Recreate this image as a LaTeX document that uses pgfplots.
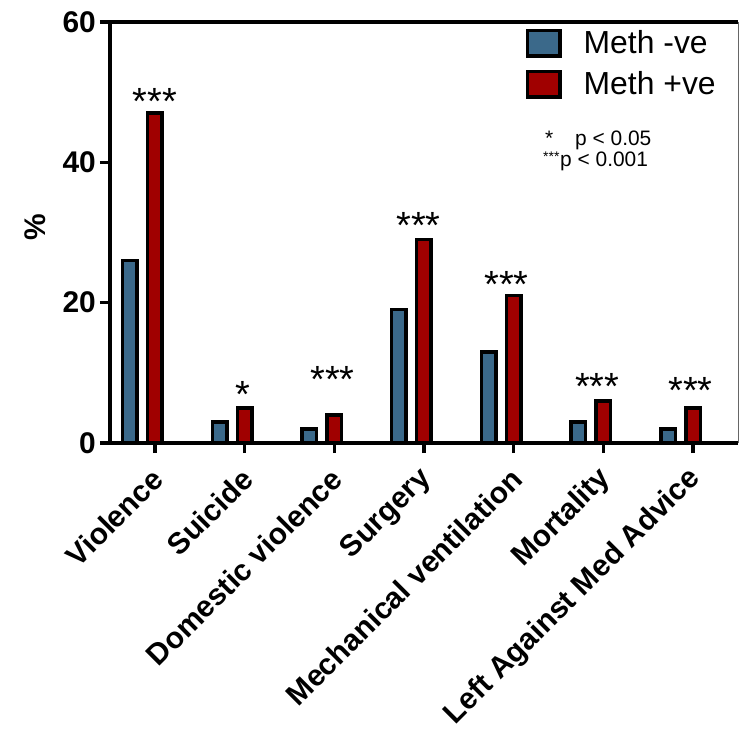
\documentclass[border=0pt]{standalone}
\usepackage{pgfplots}
\pgfplotsset{compat=1.18}
\usepackage{fontspec}
\setmainfont{Liberation Sans}
\definecolor{methneg}{HTML}{3B698A}
\definecolor{methpos}{HTML}{A00000}
\begin{document}
\begin{tikzpicture}
\begin{axis}[
  scale only axis,
  width=628bp, height=421bp,
  xmin=-0.5, xmax=6.5,
  ymin=0, ymax=60,
  ytick={0,20,40,60},
  xtick={0,1,2,3,4,5,6},
  xticklabels={Violence,Suicide,Domestic violence,Surgery,Mechanical ventilation,Mortality,Left Against Med Advice},
  tick pos=left,
  tick align=outside,
  major tick length=10bp,
  every tick/.style={black, line width=3.5bp},
  minor tick num=0,
  axis line style={draw=none},
  /pgf/number format/assume math mode=true,
  yticklabel style={font=\fontsize{30}{36}\selectfont\bfseries, inner sep=0pt, anchor=east, xshift=-4bp},
  xticklabel style={font=\fontsize{30}{36}\selectfont\bfseries, rotate=45, anchor=east, inner sep=0pt, xshift=-13bp, yshift=-17bp},
  ylabel={\%},
  ylabel style={font=\fontsize{30}{36}\selectfont\bfseries, at={(axis description cs:-0.1194,0.513)}, anchor=center},
  clip=false,
  legend style={at={(0.662,0.985)}, anchor=north west, draw=none, fill=none, inner sep=0pt,
    row sep=12bp, font=\fontsize{32}{38}\selectfont, nodes={inner sep=0pt, anchor=base west}},
  legend cell align=left,
]
\addplot[ybar, bar width=14.5bp, bar shift=-25bp, fill=methneg, draw=black, line width=3.5bp,
  legend image code/.code={\draw[fill=methneg,draw=black,line width=3.5bp] (0bp,-2.5bp) rectangle (32.5bp,23bp); \path[draw=none,fill=none] (0bp,0bp) -- (56bp,0bp);}]
  coordinates {(0,26) (1,3) (2,2) (3,19) (4,13) (5,3) (6,2)};
\addlegendentry{Meth -ve}
\addplot[ybar, bar width=14.5bp, bar shift=0bp, fill=methpos, draw=black, line width=3.5bp,
  legend image code/.code={\draw[fill=methpos,draw=black,line width=3.5bp] (0bp,-2.5bp) rectangle (32.5bp,23bp); \path[draw=none,fill=none] (0bp,0bp) -- (56bp,0bp);}]
  coordinates {(0,47) (1,5) (2,4) (3,29) (4,21) (5,6) (6,5)};
\addlegendentry{Meth +ve}
% significance stars
\begin{scope}[every node/.style={anchor=north, inner sep=0pt, font=\fontsize{38}{44}\selectfont}]
\node at (axis cs:0,50.6) {***};
\node at (axis cs:0.98,8.8) {*};
\node at (axis cs:1.98,11.0) {***};
\node at (axis cs:2.94,32.9) {***};
\node at (axis cs:3.92,24.5) {***};
\node at (axis cs:4.93,10.0) {***};
\node at (axis cs:5.97,9.3) {***};
\end{scope}
% axis frame
\draw[line width=4bp] (rel axis cs:0,1) -- (rel axis cs:1,1);
\draw[line width=4bp] (rel axis cs:0,1) -- (rel axis cs:0,0) -- (rel axis cs:1,0);
\draw[line width=1bp, black!60] (rel axis cs:1,0) -- (rel axis cs:1,1);
\coordinate (O) at (rel axis cs:0,0);
\end{axis}
\node[anchor=base west, inner sep=0pt, font=\fontsize{21}{25}\selectfont] at ([shift={(435bp,297bp)}]O) {*};
\node[anchor=base west, inner sep=0pt, font=\fontsize{21}{25}\selectfont] at ([shift={(465bp,297bp)}]O) {p < 0.05};
\node[anchor=base west, inner sep=0pt, font=\fontsize{14}{16}\selectfont] at ([shift={(433bp,281bp)}]O) {***};
\node[anchor=base west, inner sep=0pt, font=\fontsize{21}{25}\selectfont] at ([shift={(450bp,276bp)}]O) {p < 0.001};
\pgfresetboundingbox
\path ([shift={(-110bp,-288bp)}]O) rectangle ++(741bp,731bp);
\end{tikzpicture}
\end{document}
